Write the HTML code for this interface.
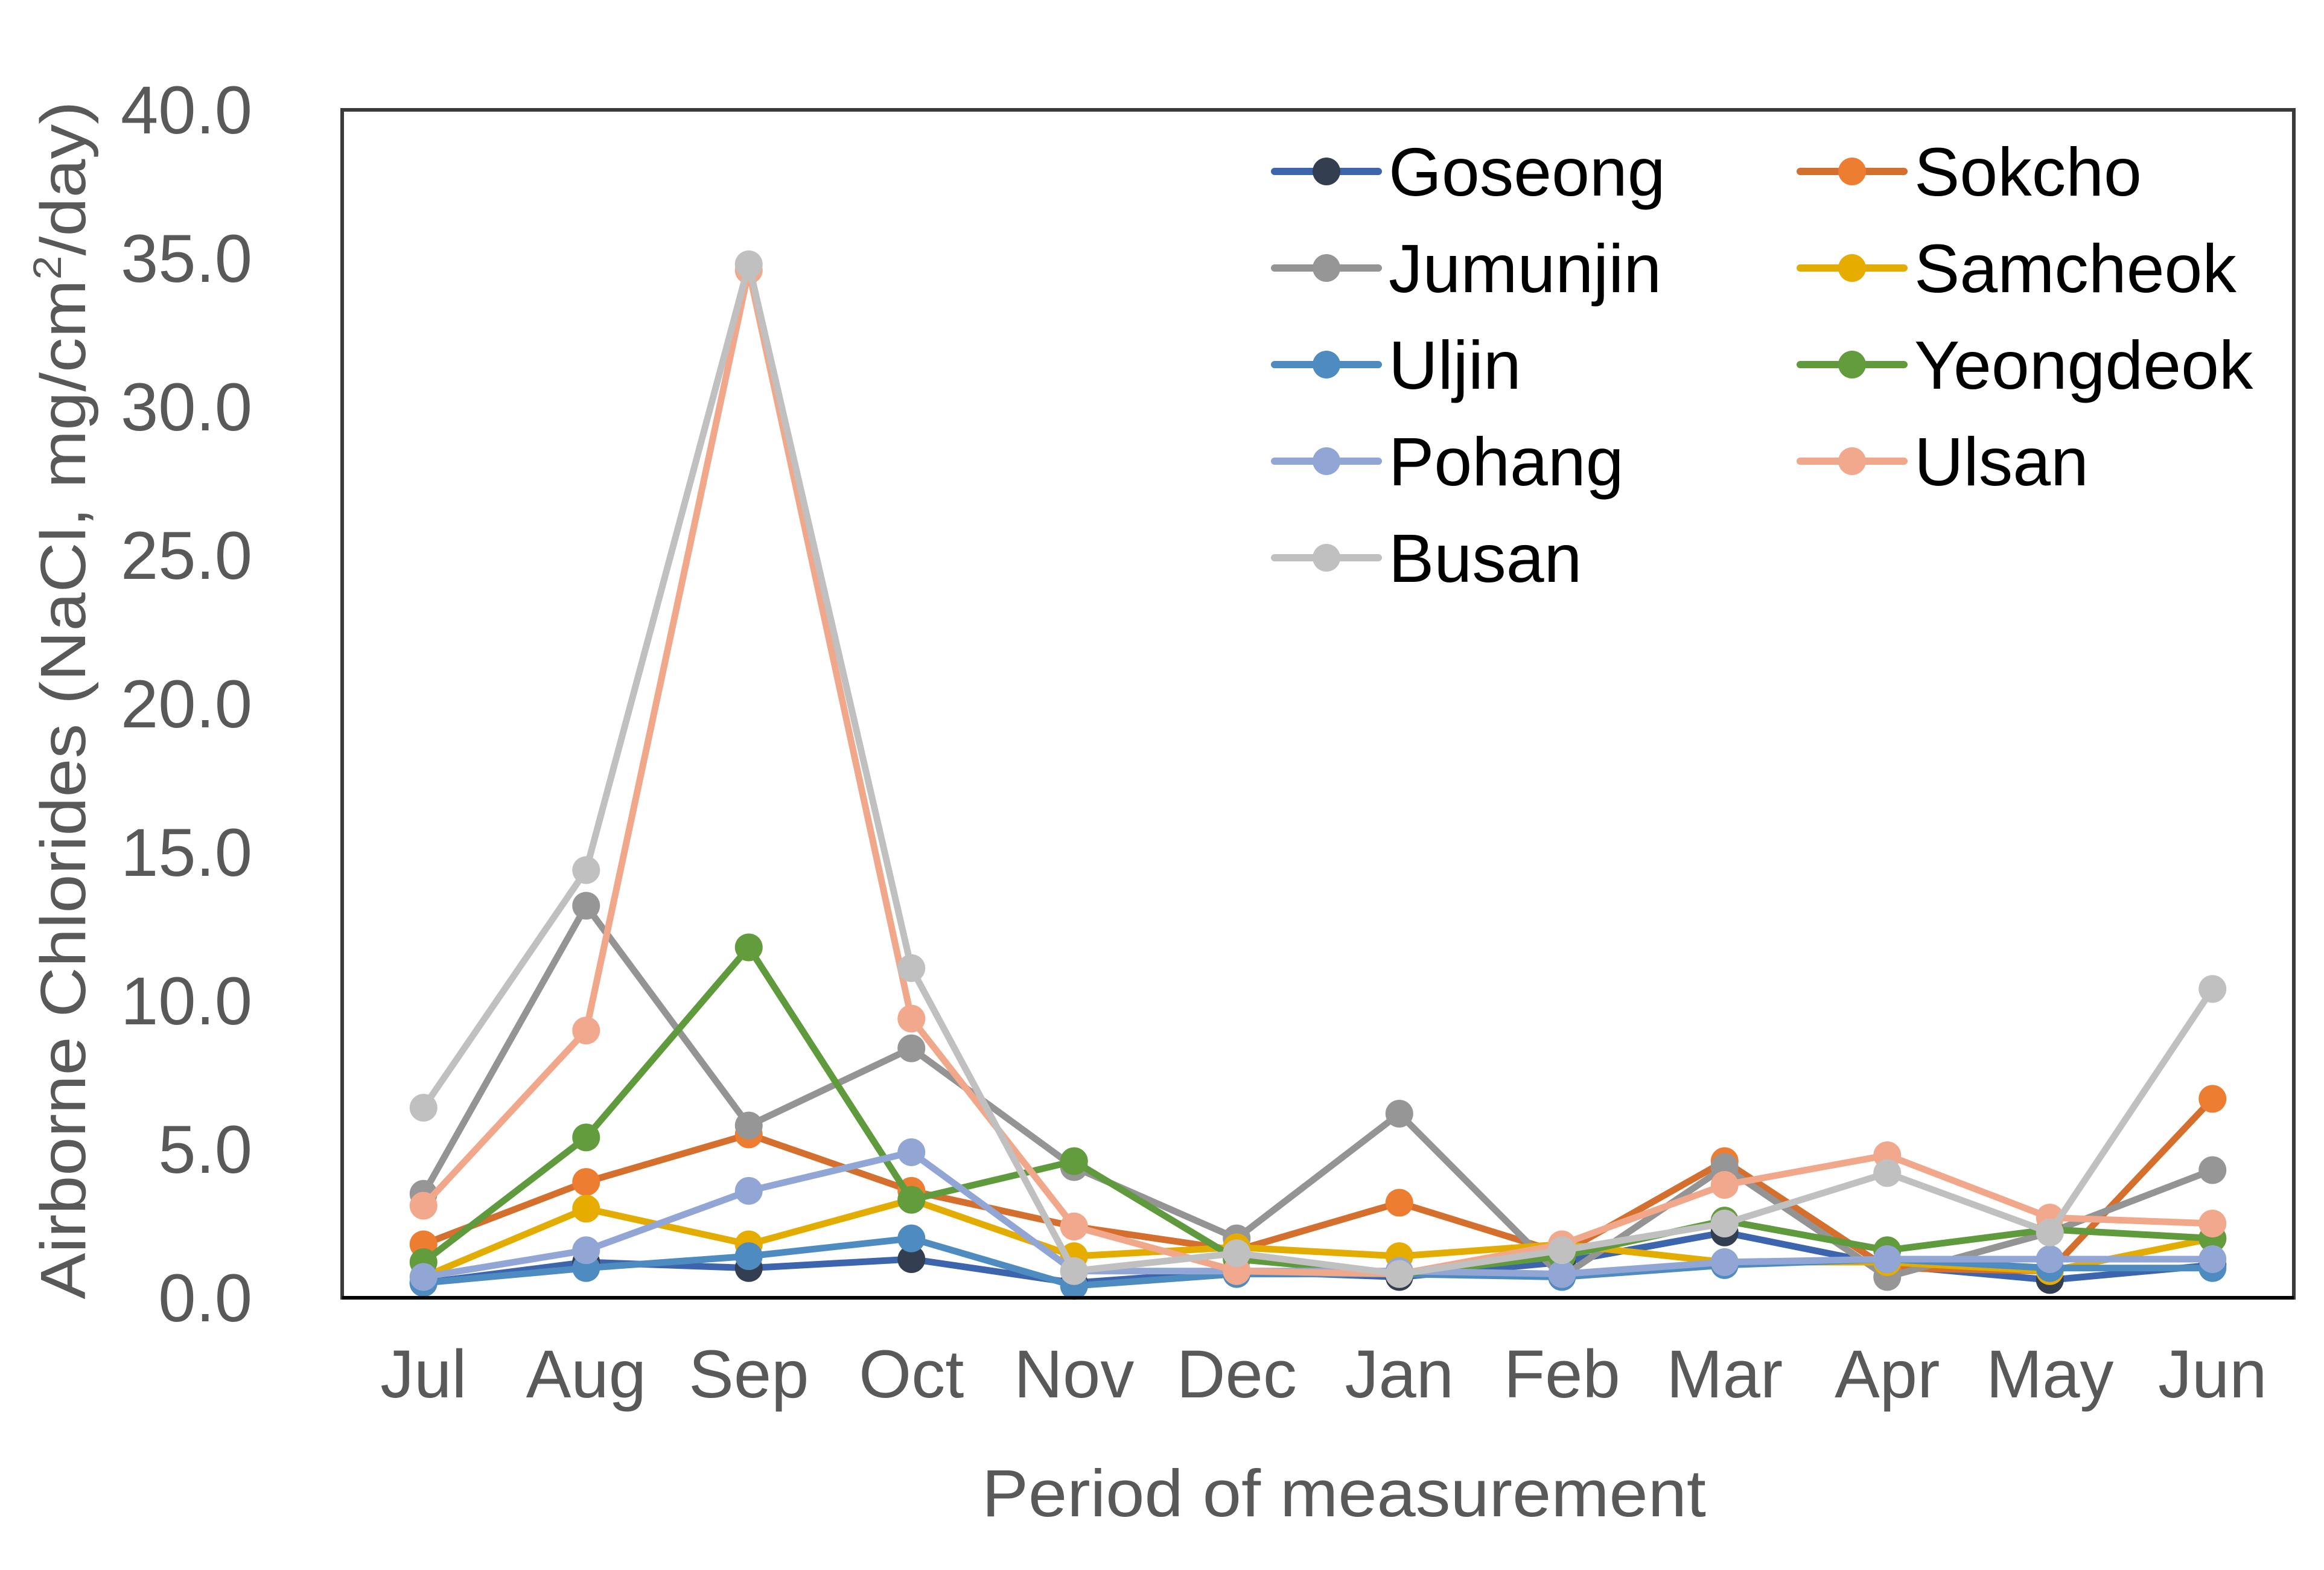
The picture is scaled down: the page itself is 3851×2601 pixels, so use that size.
<!DOCTYPE html>
<html><head><meta charset="utf-8"><style>
html,body{margin:0;padding:0;background:#fff;}
svg{display:block;font-family:"Liberation Sans",sans-serif;}
</style></head><body>
<svg id="chart" width="3851" height="2601" viewBox="0 0 3851 2601">
<rect x="0" y="0" width="3851" height="2601" fill="#fff"/>
<g id="series"></g>
<rect x="567" y="182" width="3234" height="1968" fill="none" stroke="#3a3a3a" stroke-width="6"/>
<line x1="567" y1="2150" x2="3801" y2="2150" stroke="#000" stroke-width="6"/>
<g id="yticks"></g>
<g id="xticks"></g>
<text x="2227" y="2512" font-size="110" fill="#595959" text-anchor="middle" textLength="1200" lengthAdjust="spacingAndGlyphs">Period of measurement</text>
<text transform="translate(141,1160) rotate(-90)" font-size="106" fill="#595959" text-anchor="middle" textLength="1985" lengthAdjust="spacingAndGlyphs">Airborne Chlorides (NaCl, mg/cm<tspan font-size="66" dy="-40">2</tspan><tspan dy="40">/day)</tspan></text>
<g id="legend"></g>
</svg>
<script>
const categories = ["Jul","Aug","Sep","Oct","Nov","Dec","Jan","Feb","Mar","Apr","May","Jun"];
const yTicks = [0,5,10,15,20,25,30,35,40];
const seriesNames = ["Goseong","Sokcho","Jumunjin","Samcheok","Uljin","Yeongdeok","Pohang","Ulsan","Busan"];
const goseong   = [0.5,1.2,1.0,1.3,0.5,0.9,0.7,1.2,2.2,1.1,0.6,1.1];
const sokcho    = [1.8,3.9,5.5,3.6,2.4,1.6,3.2,1.5,4.6,1.0,0.9,6.7];
const jumunjin  = [3.5,13.2,5.8,8.4,4.4,2.0,6.2,0.7,4.4,0.7,2.2,4.3];
const samcheok  = [0.7,3.0,1.8,3.3,1.4,1.7,1.4,1.8,1.2,1.2,0.9,2.0];
const uljin     = [0.5,1.0,1.4,2.0,0.4,0.8,0.8,0.7,1.1,1.3,1.0,1.0];
const yeongdeok = [1.2,5.4,11.8,3.3,4.6,1.3,0.8,1.4,2.6,1.6,2.3,2.0];
const pohang    = [0.7,1.6,3.6,4.9,0.9,0.9,0.9,0.8,1.2,1.3,1.3,1.3];
const ulsan     = [3.1,9.0,34.6,9.4,2.4,0.9,0.8,1.8,3.8,4.8,2.7,2.5];
const busan     = [6.4,14.4,34.8,11.1,0.9,1.5,0.8,1.6,2.5,4.2,2.2,10.4];

const seriesValues = [goseong,sokcho,jumunjin,samcheok,uljin,yeongdeok,pohang,ulsan,busan];
const lineColors = ["#3C65AD","#D56F2E","#949494","#E3AC00","#4E8BC0","#5F9A3C","#92A6D6","#F0A78A","#C0C0C0"];
const markerColors = ["#333F50","#ED7D31","#969696","#E6AC00","#4E8BC0","#629C3D","#92A6D6","#F1A88C","#C0C0C0"];

const NS = "http://www.w3.org/2000/svg";
const X0 = 567, X1 = 3801, Y0 = 2150, Y1 = 182, YMAX = 40;
const band = (X1 - X0) / categories.length;
function xPos(i){ return X0 + band * (i + 0.5); }
function yPos(v){ return Y0 - (v / YMAX) * (Y0 - Y1); }
function mk(tag, attrs){ const e = document.createElementNS(NS, tag); for (const k in attrs) e.setAttribute(k, attrs[k]); return e; }

const yt = document.getElementById('yticks');
yTicks.forEach(t => {
  const tx = mk('text', {x: 418, y: yPos(t) + 39, 'font-size': 112, fill: '#595959', 'text-anchor': 'end'});
  
  
  tx.textContent = t.toFixed(1);
  yt.appendChild(tx);
});
const xt = document.getElementById('xticks');
categories.forEach((c, i) => {
  const tx = mk('text', {x: xPos(i), y: 2315, 'font-size': 112, fill: '#595959', 'text-anchor': 'middle'});
  
  
  tx.textContent = c;
  xt.appendChild(tx);
});

const sg = document.getElementById('series');
seriesValues.forEach((vals, s) => {
  const g = mk('g', {});
  
  
  const pts = vals.map((v, i) => xPos(i).toFixed(1) + ',' + yPos(v).toFixed(1)).join(' ');
  const pl = mk('polyline', {points: pts, fill: 'none', stroke: lineColors[s], 'stroke-width': 11, 'stroke-linejoin': 'round'});
  
  
  g.appendChild(pl);
  vals.forEach((v, i) => {
    const c = mk('circle', {cx: xPos(i), cy: yPos(v), r: 23, fill: markerColors[s]});
    
    
    g.appendChild(c);
  });
  sg.appendChild(g);
});

const lg = document.getElementById('legend');
seriesNames.forEach((n, s) => {
  const col = s % 2, row = Math.floor(s / 2);
  const lx = col === 0 ? 2112 : 2983;
  const ly = 284 + row * 160;
  const g = mk('g', {});
  
  
  g.appendChild(mk('line', {x1: lx, y1: ly, x2: lx + 172, y2: ly, stroke: lineColors[s], 'stroke-width': 12, 'stroke-linecap': 'round'}));
  g.appendChild(mk('circle', {cx: lx + 86, cy: ly, r: 23, fill: markerColors[s]}));
  const t = mk('text', {x: lx + 189, y: ly + 40, 'font-size': 113, fill: '#000'});
  t.textContent = n;
  g.appendChild(t);
  lg.appendChild(g);
});
</script>
</body></html>
